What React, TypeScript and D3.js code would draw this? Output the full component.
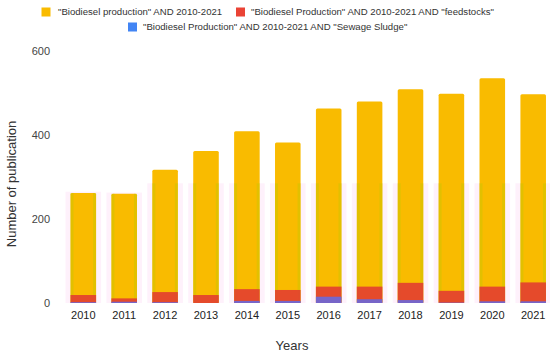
import React from "react";
import * as d3 from "d3";

const years = ["2010","2011","2012","2013","2014","2015","2016","2017","2018","2019","2020","2021"];
const production = [262, 260, 317, 362, 409, 382, 463, 480, 509, 498, 535, 497];
const feedstocks = [19, 11, 26, 19, 33, 31, 39, 39, 48, 29, 39, 49];
const sewage = [2, 3, 2, 0, 5, 5, 15, 9, 7, 1, 4, 4];
const yTicks = [0, 200, 400, 600];
const legendLabels = [
  '"Biodiesel production" AND 2010-2021',
  '"Biodiesel Production" AND 2010-2021 AND "feedstocks"',
  '"Biodiesel Production" AND 2010-2021 AND "Sewage Sludge"',
];
const colors = ["#f9bb00", "#e23e30", "#5b6cf0"];

export default function App() {
  const W = 550, H = 354;
  const x = d3.scaleBand<string>().domain(years).range([62.85, 553.65]).paddingInner(0.375).paddingOuter(0.1875);
  const y = d3.scaleLinear().domain([0, 600]).range([303, 51]);
  const bw = x.bandwidth();
  const font = "Liberation Sans, Arial, sans-serif";
  return (
    <svg width={W} height={H} style={{ position: "absolute", left: 0, top: 0, background: "#fff" }} fontFamily={font}>
      <rect width={W} height={H} fill="#fff" />
      {years.map((yr, i) => {
        const top = Math.min(production[i] + 3, 285);
        return (
          <rect key={"g" + yr} x={(x(yr) as number) - 5} y={y(top)} width={bw + 10} height={y(0) - y(top)} fill="#fef1fb" />
        );
      })}
      {years.map((yr, i) => (
        <rect key={"p" + yr} x={x(yr)} y={y(production[i])} width={bw} height={y(0) - y(production[i])} fill={colors[0]} rx={1.5} />
      ))}
      {years.map((yr, i) => {
        const top = Math.min(production[i], 285);
        const h = y(0) - y(top);
        return (
          <g key={"e" + yr} opacity={0.45}>
            <rect x={x(yr)} y={y(top)} width={3} height={h} fill="#c8c800" />
            <rect x={(x(yr) as number) + bw - 3} y={y(top)} width={3} height={h} fill="#c8c800" />
          </g>
        );
      })}
      {years.map((yr, i) => (
        <rect key={"f" + yr} x={x(yr)} y={y(feedstocks[i])} width={bw} height={y(0) - y(feedstocks[i])} fill={colors[1]} opacity={0.9} />
      ))}
      {years.map((yr, i) => (
        <rect key={"s" + yr} x={x(yr)} y={y(sewage[i])} width={bw} height={y(0) - y(sewage[i])} fill={colors[2]} opacity={0.8} />
      ))}
      {yTicks.map((t) => (
        <text key={"yt" + t} x={50} y={y(t)} dy="0.35em" textAnchor="end" fontSize={11} fill="#444">{t}</text>
      ))}
      {years.map((yr) => (
        <text key={"xt" + yr} x={(x(yr) as number) + bw / 2} y={319} textAnchor="middle" fontSize={11} fill="#222">{yr}</text>
      ))}
      <text x={292} y={350} textAnchor="middle" fontSize={13} fill="#333">Years</text>
      <text transform={`translate(16,184) rotate(-90)`} textAnchor="middle" fontSize={13} fill="#333">Number of publication</text>
      <rect x={41.5} y={7.5} width={9} height={9} fill={colors[0]} />
      <text x={58} y={12} dy="0.35em" fontSize={9.6} fill="#333">{legendLabels[0]}</text>
      <rect x={236} y={7.5} width={9} height={9} fill="#ea4335" />
      <text x={251} y={12} dy="0.35em" fontSize={9.6} fill="#333">{legendLabels[1]}</text>
      <rect x={128} y={22.5} width={9} height={9} fill="#4285f4" />
      <text x={143} y={27} dy="0.35em" fontSize={9.6} fill="#333">{legendLabels[2]}</text>
    </svg>
  );
}
